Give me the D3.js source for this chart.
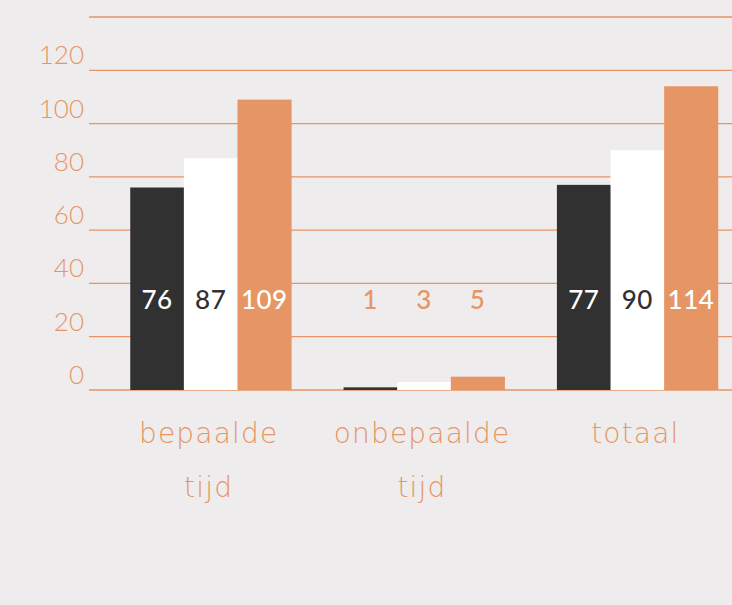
<!DOCTYPE html>
<html>
<head>
<meta charset="utf-8">
<script src="https://cdn.jsdelivr.net/npm/d3@7"></script>
<style>
  html, body { margin: 0; padding: 0; background: #efeced; }
  svg { display: block; }
</style>
</head>
<body>
<svg id="chart" width="732" height="605"></svg>
<script>
const categories = [["bepaalde", "tijd"], ["onbepaalde", "tijd"], ["totaal"]];
const seriesA = [76, 1, 77];
const seriesB = [87, 3, 90];
const seriesC = [109, 5, 114];
const yTicks = [0, 20, 40, 60, 80, 100, 120, 140];

const orange = "#e69664";
const dark = "#313131";
const series = [
  { values: seriesA, fill: dark, label: "#ffffff" },
  { values: seriesB, fill: "#ffffff", label: dark },
  { values: seriesC, fill: orange, label: "#ffffff" }
];

const svg = d3.select("#chart");
const width = 732;

const y = d3.scaleLinear().domain([0, 140]).range([390, 17]);

const x0 = d3
  .scaleBand()
  .domain(d3.range(categories.length))
  .range([104, 744])
  .paddingInner(0.246)
  .paddingOuter(0.123);

const x1 = d3
  .scaleBand()
  .domain(d3.range(series.length))
  .range([0, x0.bandwidth()]);

// gridlines + tick labels
const axis = svg.append("g");
axis
  .selectAll("line")
  .data(yTicks)
  .enter()
  .append("line")
  .attr("x1", 89)
  .attr("x2", width)
  .attr("y1", (d) => y(d))
  .attr("y2", (d) => y(d))
  .attr("stroke", orange)
  .attr("stroke-width", 1.3);

axis
  .selectAll("text")
  .data(yTicks.filter((d) => d < 140))
  .enter()
  .append("text")
  .attr("x", 84)
  .attr("y", (d) => y(d) - 6)
  .attr("text-anchor", "end")
  .style("font-family", "Lato, sans-serif")
  .style("font-weight", 300)
  .style("font-size", "26px")
  .attr("fill", orange)
  .text((d) => d);

// bars
const groups = svg
  .selectAll(".group")
  .data(categories)
  .enter()
  .append("g")
  .attr("class", "group")
  .attr("transform", (d, i) => `translate(${x0(i)},0)`);

groups.each(function (cat, i) {
  const g = d3.select(this);
  series.forEach((s, j) => {
    const v = s.values[i];
    g.append("rect")
      .attr("x", x1(j))
      .attr("y", y(v))
      .attr("width", x1.bandwidth() + 0.5)
      .attr("height", y(0) - y(v))
      .attr("fill", s.fill);
    const inside = y(v) < 290;
    g.append("text")
      .attr("x", x1(j) + x1.bandwidth() / 2)
      .attr("y", 309)
      .attr("text-anchor", "middle")
      .style("font-family", "Lato, sans-serif")
      .style("font-weight", 500)
      .style("font-size", "26px")
      .style("letter-spacing", "0.5px")
      .attr("fill", inside ? s.label : orange)
      .text(v);
  });
});

// category labels
svg
  .selectAll(".cat")
  .data(categories)
  .enter()
  .append("text")
  .attr("class", "cat")
  .attr("text-anchor", "middle")
  .style("font-family", "'DejaVu Sans', sans-serif")
  .style("font-weight", 200)
  .style("font-size", "28px")
  .style("letter-spacing", "1.2px")
  .attr("fill", orange)
  .each(function (lines, i) {
    const t = d3.select(this);
    lines.forEach((line, k) => {
      t.append("tspan")
        .attr("x", x0(i) + x0.bandwidth() / 2 - 2)
        .attr("y", 443 + k * 54)
        .text(line);
    });
  });
</script>
</body>
</html>
